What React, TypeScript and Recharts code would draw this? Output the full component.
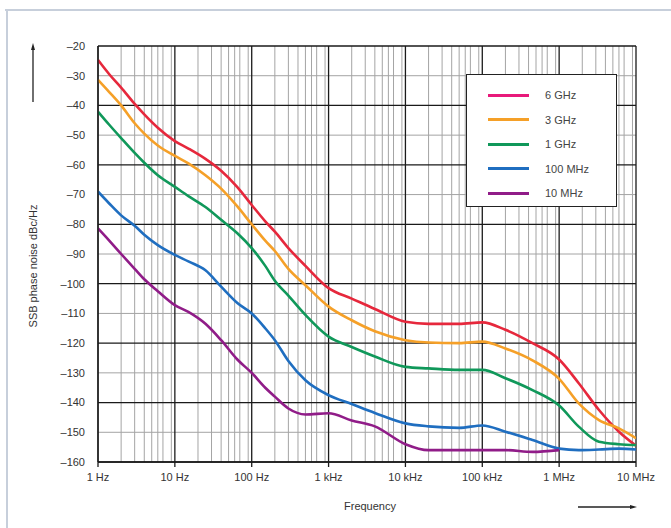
import React from 'react';
import { LineChart, Line, XAxis, YAxis, CartesianGrid } from 'recharts';

const freqs = [1, 1.4, 2, 3, 4, 6, 10, 15, 25, 40, 65, 100, 150, 200, 300, 500, 1e3, 2e3, 4e3, 1e4, 2e4, 5e4, 1e5, 2e5, 4.5e5, 1e6, 1.8e6, 3.3e6, 6e6, 1e7];

const ghz6 = [-24.7, -29.5, -34, -39.5, -43, -47.5, -52, -54.5, -58, -62, -67.5, -73.5, -79, -82.5, -88, -94, -101.5, -105, -108.5, -112.8, -113.5, -113.5, -113, -115.5, -120, -125.5, -133.5, -142.5, -149.8, -154.5];
const ghz3 = [-31.4, -35.5, -40, -46, -49.5, -53.5, -57, -59.5, -63.5, -68, -74, -80, -85.5, -89, -95, -100.5, -107.7, -112.3, -116, -119, -119.8, -120, -119.5, -121.8, -125.8, -132, -140.3, -145.9, -148.7, -152];
const ghz1 = [-42.1, -46.5, -51, -56, -59.3, -63.5, -67.4, -70.5, -74.2, -78.5, -83, -88, -94, -99, -104, -110.5, -117.8, -121.3, -124.5, -128, -128.5, -129, -129, -131.8, -135.8, -141, -148.1, -153.2, -154, -154.3];
const mhz100 = [-69, -73, -77, -80.5, -83.5, -87, -90.3, -92.5, -95.5, -101, -106.5, -110, -115, -119, -126, -132.5, -137.5, -140.5, -143.5, -147, -148, -148.5, -147.7, -149.8, -152.6, -155.5, -156, -155.8, -155.5, -155.8];
const mhz10 = [-81.4, -85.5, -90, -95, -98.5, -102.5, -107.2, -109.5, -113.5, -119, -125.5, -130, -135, -138, -142, -144, -143.6, -146, -148, -154, -156, -156, -156, -156, -156.6, -156, null, null, null, null];

const seriesNames = ['6 GHz', '3 GHz', '1 GHz', '100 MHz', '10 MHz'];
const seriesKeys = ['g6', 'g3', 'g1', 'm100', 'm10'];
const seriesValues = [ghz6, ghz3, ghz1, mhz100, mhz10];
const lineColors = ['#e6283c', '#f5a028', '#10985a', '#1f6ec0', '#901c88'];
const legendColors = ['#e8197a', '#f5a028', '#10985a', '#1f6ec0', '#901c88'];

const xTicks = [1, 10, 100, 1e3, 1e4, 1e5, 1e6, 1e7];
const xTickLabels = ['1 Hz', '10 Hz', '100 Hz', '1 kHz', '10 kHz', '100 kHz', '1 MHz', '10 MHz'];
const yTicks = [-20, -30, -40, -50, -60, -70, -80, -90, -100, -110, -120, -130, -140, -150, -160];

const data = freqs.map((f, i) => {
  const row: any = { f };
  seriesKeys.forEach((k, j) => {
    row[k] = seriesValues[j][i];
  });
  return row;
});

const minorX: number[] = [];
xTicks.slice(0, -1).forEach((d) => {
  for (let m = 2; m <= 9; m++) minorX.push(d * m);
});
const minorY = yTicks.filter((v) => v % 20 !== 0);
const majorY = yTicks.filter((v) => v % 20 === 0);

const FONT = '"Liberation Sans", Arial, Helvetica, sans-serif';

const LegendBox = () => (
  <div
    style={{
      position: 'absolute',
      left: 466,
      top: 74,
      width: 151,
      height: 133,
      border: '1px solid #222',
      background: '#fff',
      boxSizing: 'border-box',
      fontFamily: FONT,
      fontSize: 11,
      color: '#444',
    }}
  >
    {seriesNames.map((n, i) => (
      <div key={n} style={{ position: 'absolute', left: 21, top: 13 + i * 24.5, height: 14, display: 'flex', alignItems: 'center' }}>
        <div style={{ width: 41, height: 3, background: legendColors[i] }} />
        <span style={{ marginLeft: 16 }}>{n}</span>
      </div>
    ))}
  </div>
);

export default function App() {
  return (
    <div style={{ position: 'absolute', left: 0, top: 0, width: 671, height: 528, background: '#fff' }}>
      <LineChart width={671} height={528} data={data} margin={{ top: 46, right: 35, bottom: 26, left: 38 }}>
        <CartesianGrid
          stroke="#a4a4a4"
          strokeWidth={1}
          verticalValues={minorX}
          horizontalValues={minorY}
        />
        <CartesianGrid
          stroke="#1a1a1a"
          strokeWidth={1.3}
          verticalValues={xTicks}
          horizontalValues={majorY}
        />
        <XAxis
          dataKey="f"
          type="number"
          scale="log"
          domain={[1, 1e7]}
          ticks={xTicks}
          allowDataOverflow
          tickFormatter={(v: number) => xTickLabels[xTicks.indexOf(v)] ?? ''}
          height={40}
          tickSize={5}
          tickMargin={6}
          stroke="#1a1a1a"
          strokeWidth={1.3}
          tick={{ fill: '#333', fontSize: 11, fontFamily: FONT }}
        />
        <YAxis
          type="number"
          domain={[-160, -20]}
          ticks={yTicks}
          allowDataOverflow
          width={60}
          tickLine={false}
          tickSize={0}
          tickMargin={13}
          stroke="#1a1a1a"
          strokeWidth={1.3}
          tickFormatter={(v: number) => (v < 0 ? '\u2013' + Math.abs(v) : String(v))}
          tick={{ fill: '#333', fontSize: 11, fontFamily: FONT }}
        />
        {seriesKeys.map((k, i) => (
          <Line
            key={k}
            dataKey={k}
            name={seriesNames[i]}
            stroke={lineColors[i]}
            strokeWidth={2.6}
            dot={false}
            type="monotone"
            isAnimationActive={false}
            connectNulls={false}
          />
        ))}
      </LineChart>
      <LegendBox />
      <svg width={671} height={528} style={{ position: 'absolute', left: 0, top: 0, pointerEvents: 'none' }}>
        <line x1={5} y1={10} x2={671} y2={10} stroke="#c7cfdb" strokeWidth={2} />
        <line x1={7} y1={10} x2={7} y2={528} stroke="#c7cfdb" strokeWidth={2} />
        <text
          x={37}
          y={266}
          transform="rotate(-90 37 266)"
          textAnchor="middle"
          fontFamily={FONT}
          fontSize={11}
          fill="#333"
        >
          SSB phase noise dBc/Hz
        </text>
        <line x1={33} y1={102} x2={33} y2={48} stroke="#222" strokeWidth={1.3} />
        <polygon points="33,43 31,50 35,50" fill="#222" />
        <text x={370} y={510} textAnchor="middle" fontFamily={FONT} fontSize={11} fill="#333">
          Frequency
        </text>
        <line x1={578} y1={507} x2={631} y2={507} stroke="#222" strokeWidth={1.3} />
        <polygon points="637,507 630,505 630,509" fill="#222" />
      </svg>
    </div>
  );
}
